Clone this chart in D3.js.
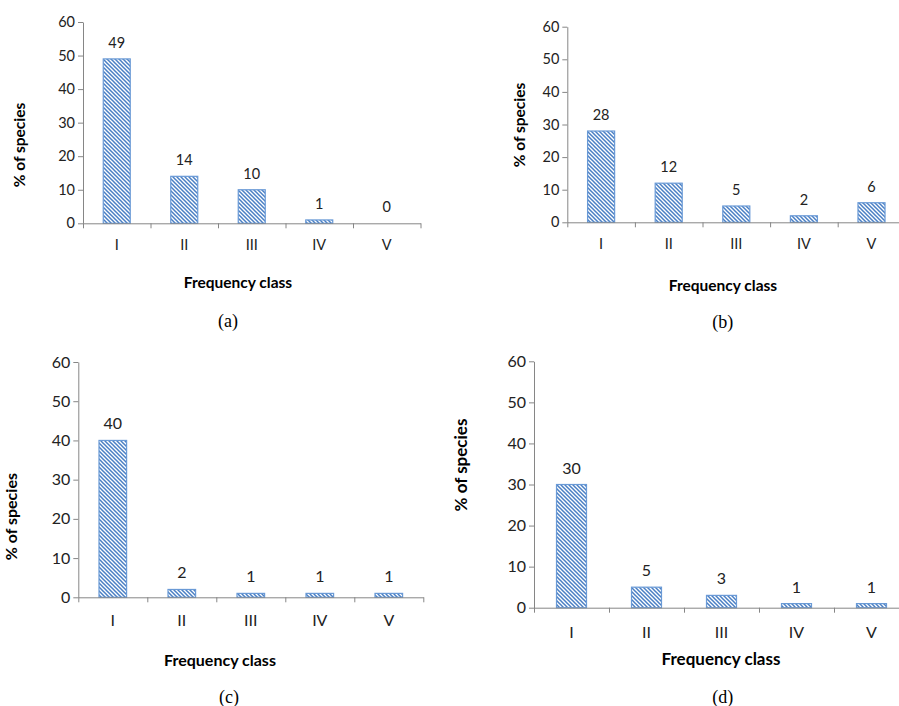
<!DOCTYPE html>
<html>
<head>
<meta charset="utf-8">
<script src="https://cdn.jsdelivr.net/npm/d3@7"></script>
<style>
   body { margin: 0; background: #fff; }
   svg { display: block; }
   .tick text { font-family: Lato, "Open Sans", sans-serif; fill: #222; }
</style>
</head>
<body>
<script>

// Data.
const categories = ["I", "II", "III", "IV", "V"];
const valuesA = [49, 14, 10, 1, 0];
const valuesB = [28, 12, 5, 2, 6];
const valuesC = [40, 2, 1, 1, 1];
const valuesD = [30, 5, 3, 1, 1];
const yTicks = [0, 10, 20, 30, 40, 50, 60];
const panelNames = ["(a)", "(b)", "(c)", "(d)"];
const xTitle = "Frequency class";
const yTitle = "% of species";

// Where each panel sits on the page.
const panels = [
   { values: valuesA, left: 83, right: 420.5, top: 22, bottom: 223.3, catY: 245, fs: 14.5, bfs: 15.5,
     xt: [238, 283], yt: [20, 145], name: [228, 321] },
   { values: valuesB, left: 567.3, right: 905.3, top: 26.7, bottom: 222.3, catY: 244.3, fs: 14.5, bfs: 15.5,
     xt: [723, 286], yt: [520, 125], name: [722.7, 321.7] },
   { values: valuesC, left: 78.3, right: 423.3, top: 362, bottom: 597.3, catY: 620, fs: 16, bfs: 16,
     xt: [220, 660.7], yt: [11, 516.7], name: [229, 696.7] },
   { values: valuesD, left: 534, right: 909, top: 361.3, bottom: 607.7, catY: 632, fs: 16, bfs: 17,
     xt: [721, 659.3], yt: [461, 465], name: [722.7, 696.7] }
];

const axisColor = "#868686";
const barColor = "#4a7fc4";

let svg = d3.select("body").append("svg")
   .attr("width", 899)
   .attr("height", 706);

// Downward diagonal hatch, like Excel's pattern fill.
let pattern = svg.append("defs").append("pattern")
   .attr("id", "hatch")
   .attr("patternUnits", "userSpaceOnUse")
   .attr("width", 4)
   .attr("height", 4);
pattern.append("rect").attr("width", 4).attr("height", 4).attr("fill", "#fff");
pattern.append("path")
   .attr("d", "M-1,-1L5,5M-1,3L1,5M3,-1L5,1")
   .attr("stroke", barColor)
   .attr("stroke-width", 1.5);

panels.forEach(function(p, i) {
   let g = svg.append("g");
   let font = "Lato, 'Open Sans', sans-serif";

   let y = d3.scaleLinear().domain([0, 60]).range([p.bottom, p.top]);
   let xEdge = d3.scaleLinear().domain([0, categories.length]).range([p.left, p.right]);
   let x = d3.scaleBand()
      .domain(categories)
      .range([p.left, p.right])
      .paddingInner(0.6)
      .paddingOuter(0.3);
   let xCenter = d3.scaleBand().domain(categories).range([p.left, p.right]);

   // bars
   g.selectAll("rect.bar")
      .data(p.values)
      .enter()
      .append("rect")
         .attr("class", "bar")
         .attr("x", function(d, j) { return x(categories[j]); })
         .attr("y", function(d) { return y(d); })
         .attr("width", x.bandwidth())
         .attr("height", function(d) { return p.bottom - y(d); })
         .attr("fill", "url(#hatch)")
         .attr("stroke", function(d) { return d > 0 ? "#6a9ad6" : "none"; })
         .attr("stroke-width", 1.2);

   // y axis
   let yAxis = g.append("g")
      .attr("transform", "translate(" + p.left + ",0)")
      .call(d3.axisLeft(y).tickValues(yTicks).tickSize(5).tickSizeOuter(0).tickPadding(3));
   yAxis.selectAll("text").style("font-size", p.fs + "px");

   // x axis: ticks sit on the category boundaries
   g.append("g")
      .attr("transform", "translate(0," + p.bottom + ")")
      .call(d3.axisBottom(xEdge).tickValues(d3.range(categories.length + 1))
         .tickFormat("").tickSize(5).tickSizeOuter(0));

   g.selectAll(".domain, .tick line").attr("stroke", axisColor);

   // category labels
   g.selectAll("text.cat")
      .data(categories)
      .enter()
      .append("text")
         .attr("class", "cat")
         .attr("x", function(d) { return xCenter(d) + xCenter.bandwidth() / 2; })
         .attr("y", p.catY)
         .attr("dy", "0.35em")
         .attr("text-anchor", "middle")
         .style("font-family", font)
         .style("font-size", p.fs + "px")
         .attr("fill", "#222")
         .text(function(d) { return d; });

   // value labels above bars
   g.selectAll("text.val")
      .data(p.values)
      .enter()
      .append("text")
         .attr("class", "val")
         .attr("x", function(d, j) { return x(categories[j]) + x.bandwidth() / 2; })
         .attr("y", function(d) { return y(d) - 11; })
         .attr("text-anchor", "middle")
         .style("font-family", font)
         .style("font-size", p.fs + "px")
         .attr("fill", "#222")
         .text(function(d) { return d; });

   // axis titles
   g.append("text")
      .attr("x", p.xt[0])
      .attr("y", p.xt[1])
      .attr("dy", "0.35em")
      .attr("text-anchor", "middle")
      .style("font-family", font)
      .style("font-weight", "bold")
      .style("font-size", p.bfs + "px")
      .text(xTitle);

   g.append("text")
      .attr("transform", "translate(" + p.yt[0] + "," + p.yt[1] + ") rotate(-90)")
      .attr("dy", "0.35em")
      .attr("text-anchor", "middle")
      .style("font-family", font)
      .style("font-weight", "bold")
      .style("font-size", p.bfs + "px")
      .text(yTitle);

   // panel letter
   g.append("text")
      .attr("x", p.name[0])
      .attr("y", p.name[1])
      .attr("dy", "0.35em")
      .attr("text-anchor", "middle")
      .style("font-family", "'Liberation Serif', 'Times New Roman', serif")
      .style("font-size", "18px")
      .text(panelNames[i]);
});

</script>
</body>
</html>
